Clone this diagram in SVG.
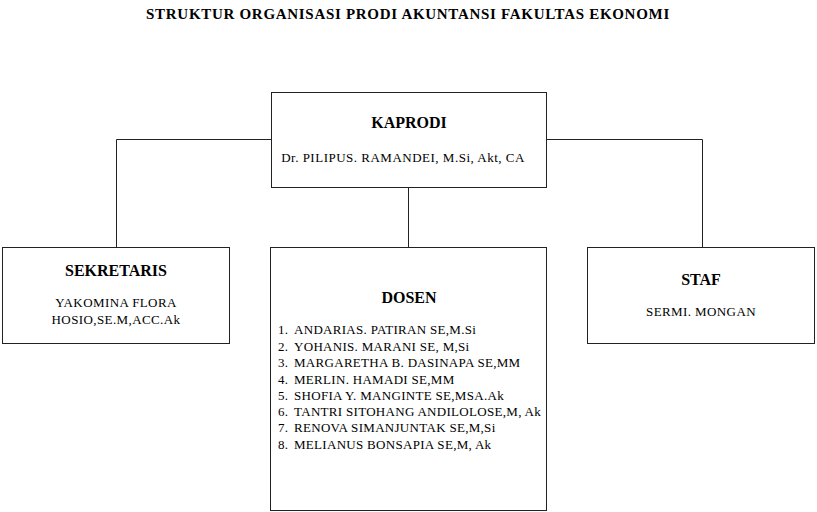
<svg xmlns="http://www.w3.org/2000/svg" width="817" height="512" viewBox="0 0 817 512">
<style>
.box{fill:#fff;stroke:#222;stroke-width:1}
.ln{stroke:#222;stroke-width:1;fill:none}
text{font-family:"Liberation Serif","Times New Roman",serif;fill:#000}
.h{font-weight:bold;font-size:16px;text-anchor:middle}
.t{font-size:13px;text-anchor:middle;letter-spacing:0.4px}
.l{font-size:13px;letter-spacing:0.3px}
.title{font-weight:bold;font-size:15px;text-anchor:middle;letter-spacing:0.7px}
</style>
<rect width="817" height="512" fill="#fff"/>
<text class="title" x="408" y="19">STRUKTUR ORGANISASI PRODI AKUNTANSI FAKULTAS EKONOMI</text>
<g id="connectors">
<polyline class="ln" points="271,139.5 116.5,139.5 116.5,247"/>
<polyline class="ln" points="546,139.5 702.5,139.5 702.5,247"/>
<line class="ln" x1="408.5" y1="187" x2="408.5" y2="247"/>
</g>
<g id="kaprodi">
<rect class="box" x="271.5" y="92.5" width="275" height="95"/>
<text class="h" x="409" y="128">KAPRODI</text>
<text class="t" x="403" y="162" style="letter-spacing:0.5px">Dr. PILIPUS. RAMANDEI, M.Si,  Akt, CA</text>
</g>
<g id="sekretaris">
<rect class="box" x="2.5" y="247.5" width="227" height="96"/>
<text class="h" x="116" y="276">SEKRETARIS</text>
<text class="t" x="116" y="307">YAKOMINA FLORA</text>
<text class="t" x="116" y="324">HOSIO,SE.M,ACC.Ak</text>
</g>
<g id="dosen">
<rect class="box" x="270.5" y="247.5" width="276" height="263"/>
<text class="h" x="409" y="303">DOSEN</text>
<g class="l">
<text x="278" y="334">1.</text><text x="294" y="334">ANDARIAS. PATIRAN SE,M.Si</text>
<text x="278" y="351">2.</text><text x="294" y="351">YOHANIS. MARANI SE, M,Si</text>
<text x="278" y="367">3.</text><text x="294" y="367">MARGARETHA B. DASINAPA SE,MM</text>
<text x="278" y="384">4.</text><text x="294" y="384">MERLIN. HAMADI SE,MM</text>
<text x="278" y="400">5.</text><text x="294" y="400">SHOFIA Y. MANGINTE SE,MSA.Ak</text>
<text x="278" y="416">6.</text><text x="294" y="416">TANTRI SITOHANG ANDILOLOSE,M, Ak</text>
<text x="278" y="432">7.</text><text x="294" y="432">RENOVA SIMANJUNTAK SE,M,Si</text>
<text x="278" y="449">8.</text><text x="294" y="449">MELIANUS BONSAPIA SE,M, Ak</text>
</g>
</g>
<g id="staf">
<rect class="box" x="587.5" y="247.5" width="227" height="96"/>
<text class="h" x="701" y="285">STAF</text>
<text class="t" x="701" y="316">SERMI. MONGAN</text>
</g>
</svg>
